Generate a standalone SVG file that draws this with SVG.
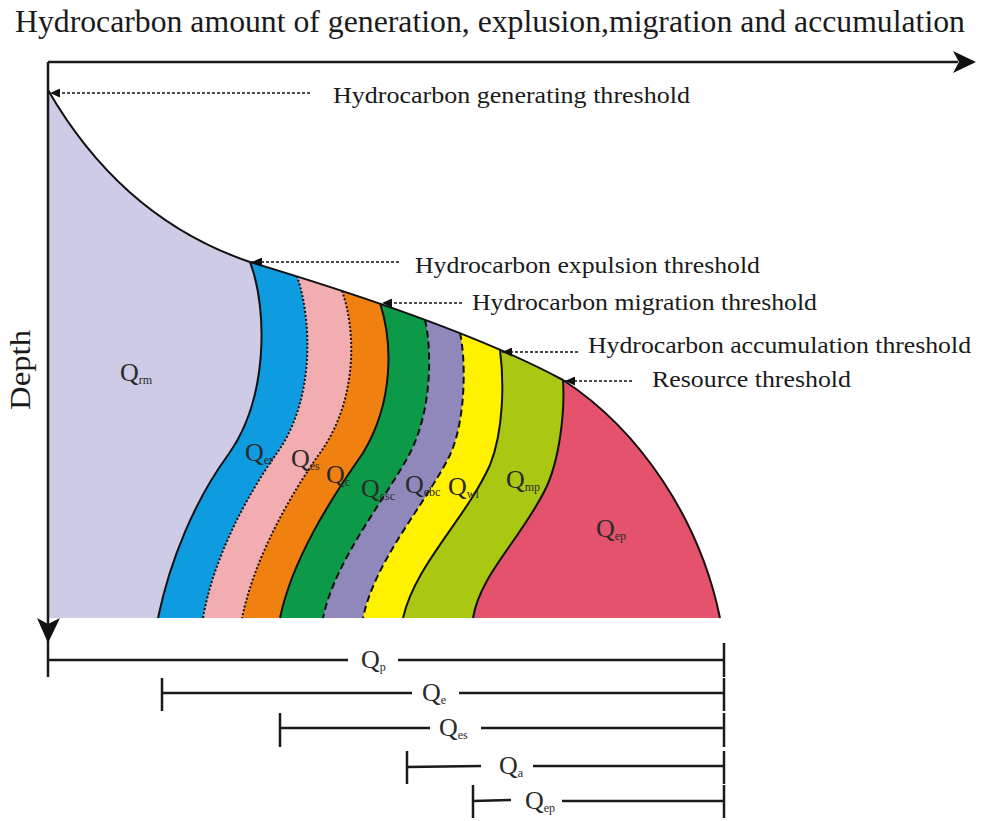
<svg xmlns="http://www.w3.org/2000/svg" width="981" height="821" viewBox="0 0 981 821" font-family="'Liberation Serif', 'Times New Roman', serif">
<style>
text{font-family:'Liberation Serif','Times New Roman',serif;fill:#1a1a1a}
.thr{font-size:23px}
.q{font-size:26px;fill:#2a2a2a}
.sub{font-size:12px}
.bnd{fill:none;stroke:#111;stroke-width:2}
.dot{fill:none;stroke:#111;stroke-width:2;stroke-dasharray:2 2}
.dash{fill:none;stroke:#111;stroke-width:2;stroke-dasharray:7 4}
.ptr{fill:none;stroke:#111;stroke-width:1.6;stroke-dasharray:3 2}
.bar{fill:none;stroke:#1a1a1a;stroke-width:2.5}
</style>
<defs>
<clipPath id="shapeClip"><path d="M48,90 C100,180 170,235 250,262 C350,292 480,335 563,380 C640,430 700,520 720,618 L48,618 Z"/></clipPath>
<marker id="ah" markerUnits="userSpaceOnUse" markerWidth="11" markerHeight="9" refX="10" refY="4.5" orient="auto"><path d="M0,0 L10,4.5 L0,9 Z" fill="#111"/></marker>
</defs>
<rect width="981" height="821" fill="#fff"/>
<text x="15" y="32" font-size="31" textLength="950" lengthAdjust="spacingAndGlyphs">Hydrocarbon amount of generation, explusion,migration and accumulation</text>
<g id="regions" clip-path="url(#shapeClip)">
<rect id="Qep-region" x="40" y="60" width="700" height="570" fill="#e5526b"/>
<path id="Qmp-region" fill="#aac811" d="M563,380 C565,410 560,460 545,490 C520,540 480,575 473,618 L0,618 L0,40 L563,40 Z"/>
<path id="Qwl-region" fill="#fff100" d="M500,350 C504,380 504,430 490,465 C465,520 415,565 403,618 L0,618 L0,40 L500,40 Z"/>
<path id="Qebc-region" fill="#9088bb" d="M460,333 C466,360 466,420 450,455 C425,505 375,560 363,618 L0,618 L0,40 L460,40 Z"/>
<path id="Qcsc-region" fill="#0d9a48" d="M425,320 C432,350 432,410 410,453 C385,500 335,560 323,618 L0,618 L0,40 L425,40 Z"/>
<path id="Qc-region" fill="#f08010" d="M380,303 C392,340 395,400 363,453 C330,500 292,560 280,618 L0,618 L0,40 L380,40 Z"/>
<path id="Qes-region" fill="#f2adb0" d="M342,291 C356,330 358,400 320,453 C288,498 254,560 242,618 L0,618 L0,40 L342,40 Z"/>
<path id="Qer-region" fill="#0e9be0" d="M297,276 C312,320 315,400 277,453 C245,498 213,560 203,618 L0,618 L0,40 L297,40 Z"/>
<path id="Qrm-region" fill="#cdcbe5" d="M250,262 C268,310 268,400 228,455 C195,500 170,560 158,618 L0,618 L0,40 L250,40 Z"/>
</g>
<g id="boundaries">
<path class="bnd" d="M48,90 C100,180 170,235 250,262 C350,292 480,335 563,380 C640,430 700,520 720,618"/>
<path class="bnd" d="M250,262 C268,310 268,400 228,455 C195,500 170,560 158,618"/>
<path class="dot" d="M297,276 C312,320 315,400 277,453 C245,498 213,560 203,618"/>
<path class="dot" d="M342,291 C356,330 358,400 320,453 C288,498 254,560 242,618"/>
<path class="bnd" d="M380,303 C392,340 395,400 363,453 C330,500 292,560 280,618"/>
<path class="dash" d="M425,320 C432,350 432,410 410,453 C385,500 335,560 323,618"/>
<path class="dash" d="M460,333 C466,360 466,420 450,455 C425,505 375,560 363,618"/>
<path class="bnd" d="M500,350 C504,380 504,430 490,465 C465,520 415,565 403,618"/>
<path class="bnd" d="M563,380 C565,410 560,460 545,490 C520,540 480,575 473,618"/>
</g>
<g id="axes">
<path d="M48,62 L958,62" stroke="#1a1a1a" stroke-width="2.5" fill="none"/>
<path d="M953,51 L976,62 L953,73 L959,62 Z" fill="#111"/>
<path d="M48,62 L48,677" stroke="#1a1a1a" stroke-width="2.5" fill="none"/>
<path d="M37,618 L48,624 L60,618 L48,643 Z" fill="#111"/>
<text x="0" y="0" font-size="29" transform="translate(30,370) rotate(-90)" text-anchor="middle" textLength="80" lengthAdjust="spacingAndGlyphs">Depth</text>
</g>
<g id="connectors">
<path class="ptr" d="M310,93 L50,93" marker-end="url(#ah)"/>
<path class="ptr" d="M399,262 L252,262" marker-end="url(#ah)"/>
<path class="ptr" d="M462,303 L382,303" marker-end="url(#ah)"/>
<path class="ptr" d="M578,352 L502,352" marker-end="url(#ah)"/>
<path class="ptr" d="M632,381 L565,381" marker-end="url(#ah)"/>
</g>
<g id="thresholds">
<text id="t-gen" class="thr" x="333" y="103" textLength="357" lengthAdjust="spacingAndGlyphs">Hydrocarbon generating threshold</text>
<text id="t-exp" class="thr" x="415" y="273" textLength="345" lengthAdjust="spacingAndGlyphs">Hydrocarbon expulsion threshold</text>
<text id="t-mig" class="thr" x="472" y="310" textLength="345" lengthAdjust="spacingAndGlyphs">Hydrocarbon migration threshold</text>
<text id="t-acc" class="thr" x="588" y="353" textLength="383" lengthAdjust="spacingAndGlyphs">Hydrocarbon accumulation threshold</text>
<text id="t-res" class="thr" x="652" y="387" textLength="199" lengthAdjust="spacingAndGlyphs">Resource threshold</text>
</g>
<g id="labels">
<text class="q" x="120" y="381">Q<tspan class="sub" dy="3">rm</tspan></text>
<text class="q" x="245" y="461">Q<tspan class="sub" dy="3">er</tspan></text>
<text class="q" x="291" y="467">Q<tspan class="sub" dy="3">es</tspan></text>
<text class="q" x="326" y="483">Q<tspan class="sub" dy="3">c</tspan></text>
<text class="q" x="361" y="497">Q<tspan class="sub" dy="3">csc</tspan></text>
<text class="q" x="405" y="493">Q<tspan class="sub" dy="3">ebc</tspan></text>
<text class="q" x="448" y="495">Q<tspan class="sub" dy="3">wl</tspan></text>
<text class="q" x="506" y="488">Q<tspan class="sub" dy="3">mp</tspan></text>
<text class="q" x="596" y="537">Q<tspan class="sub" dy="3">ep</tspan></text>
</g>
<g id="bars">
<path class="bar" d="M48,660 L348,660 M398,660 L724,660 M724,643 L724,677"/>
<text class="q" x="361" y="668">Q<tspan class="sub" dy="3">p</tspan></text>
<path class="bar" d="M162,678 L162,711 M162,693 L412,693 M459,693 L724,693 M724,678 L724,711"/>
<text class="q" x="422" y="701">Q<tspan class="sub" dy="3">e</tspan></text>
<path class="bar" d="M280,713 L280,747 M280,728 L430,728 M481,728 L724,728 M724,713 L724,747"/>
<text class="q" x="439" y="736">Q<tspan class="sub" dy="3">es</tspan></text>
<path class="bar" d="M407,751 L407,784 M407,767 L481,766 M533,766 L724,766 M724,751 L724,784"/>
<text class="q" x="499" y="774">Q<tspan class="sub" dy="3">a</tspan></text>
<path class="bar" d="M473,785 L473,818 M473,801 L511,800 M562,801 L724,801 M724,785 L724,818"/>
<text class="q" x="525" y="809">Q<tspan class="sub" dy="3">ep</tspan></text>
</g>
</svg>
